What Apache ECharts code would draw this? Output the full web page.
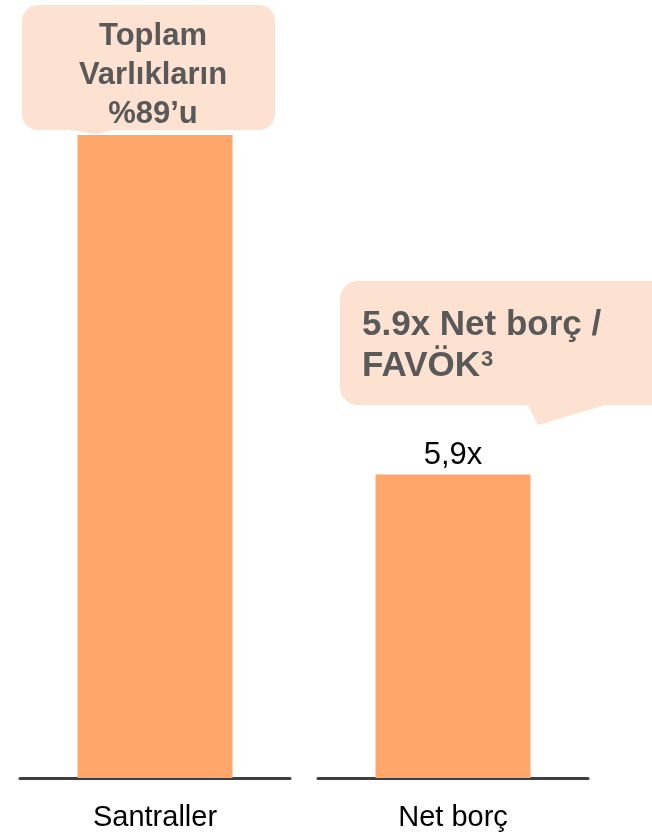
<!DOCTYPE html>
<html>
<head>
<meta charset="utf-8">
<script src="https://cdn.jsdelivr.net/npm/echarts@6/dist/echarts.min.js"></script>
<style>
  html, body { margin: 0; padding: 0; background: #fff; }
  #chart { width: 652px; height: 833px; }
</style>
</head>
<body>
<div id="chart"></div>
<script>
// data
const categories = ['Santraller', 'Net borç']
const values = [12.5, 5.9]
const barLabels = ['', '5,9x']
const calloutLeft = ['Toplam', 'Varlıkların', '%89’u']
const calloutRight = ['5.9x Net borç /', 'FAVÖK']
const calloutRightSup = '3'

const BAR_COLOR = '#FFA66B'
const BOX_COLOR = '#FDE1D1'
const TEXT_GRAY = '#595959'
const FONT = '"Liberation Sans", Arial, sans-serif'
const yMax = Math.max(...values)

const chart = echarts.init(document.getElementById('chart'))

const makeX = (i) => ({
  type: 'category',
  gridIndex: i,
  data: [categories[i]],
  axisTick: { show: false },
  axisLine: { lineStyle: { color: '#3d3f44', width: 3 } },
  axisLabel: { color: '#000', fontSize: 29, fontFamily: FONT, margin: 25 }
})
const makeY = (i) => ({
  type: 'value',
  gridIndex: i,
  min: 0,
  max: yMax,
  show: false
})
const makeSeries = (i) => ({
  type: 'bar',
  xAxisIndex: i,
  yAxisIndex: i,
  barWidth: 155,
  itemStyle: { color: BAR_COLOR },
  label: {
    show: !!barLabels[i],
    position: 'top',
    distance: 4,
    color: '#000',
    fontSize: 31,
    fontFamily: FONT,
    formatter: () => barLabels[i]
  },
  data: [values[i]]
})

const option = {
  animation: false,
  grid: [
    { left: 20, width: 270, top: 135, bottom: 55 },
    { left: 318, width: 270, top: 135, bottom: 55 }
  ],
  xAxis: [makeX(0), makeX(1)],
  yAxis: [makeY(0), makeY(1)],
  series: [makeSeries(0), makeSeries(1)],
  graphic: [
    // left callout
    {
      type: 'group',
      children: [
        { type: 'rect', shape: { x: 22, y: 5, width: 253, height: 125, r: 16 }, style: { fill: BOX_COLOR } },
        { type: 'polygon', shape: { points: [[60, 128], [122, 128], [96, 134]] }, style: { fill: BOX_COLOR } },
        {
          type: 'text', x: 153, y: 75,
          style: {
            text: calloutLeft.join('\n'), fill: TEXT_GRAY, fontSize: 31, fontWeight: 'bold',
            fontFamily: FONT, lineHeight: 39, align: 'center', verticalAlign: 'middle'
          }
        }
      ]
    },
    // right callout
    {
      type: 'group',
      children: [
        { type: 'rect', shape: { x: 340, y: 281, width: 330, height: 124, r: 18 }, style: { fill: BOX_COLOR } },
        { type: 'polygon', shape: { points: [[527, 403], [612, 403], [538, 425]] }, style: { fill: BOX_COLOR } },
        {
          type: 'text', x: 362, y: 346,
          style: {
            text: calloutRight[0] + '\n{m|' + calloutRight[1] + '}{s|' + calloutRightSup + '}',
            fill: TEXT_GRAY, fontSize: 35, fontWeight: 'bold',
            fontFamily: FONT, lineHeight: 41, align: 'left', verticalAlign: 'middle',
            rich: {
              m: { fill: TEXT_GRAY, fontSize: 35, fontWeight: 'bold', fontFamily: FONT, lineHeight: 41 },
              s: { fill: TEXT_GRAY, fontSize: 22, fontWeight: 'bold', fontFamily: FONT, lineHeight: 22, verticalAlign: 'top', padding: [3, 0, 0, 1] }
            }
          }
        }
      ]
    }
  ]
}

chart.setOption(option)
</script>
</body>
</html>
